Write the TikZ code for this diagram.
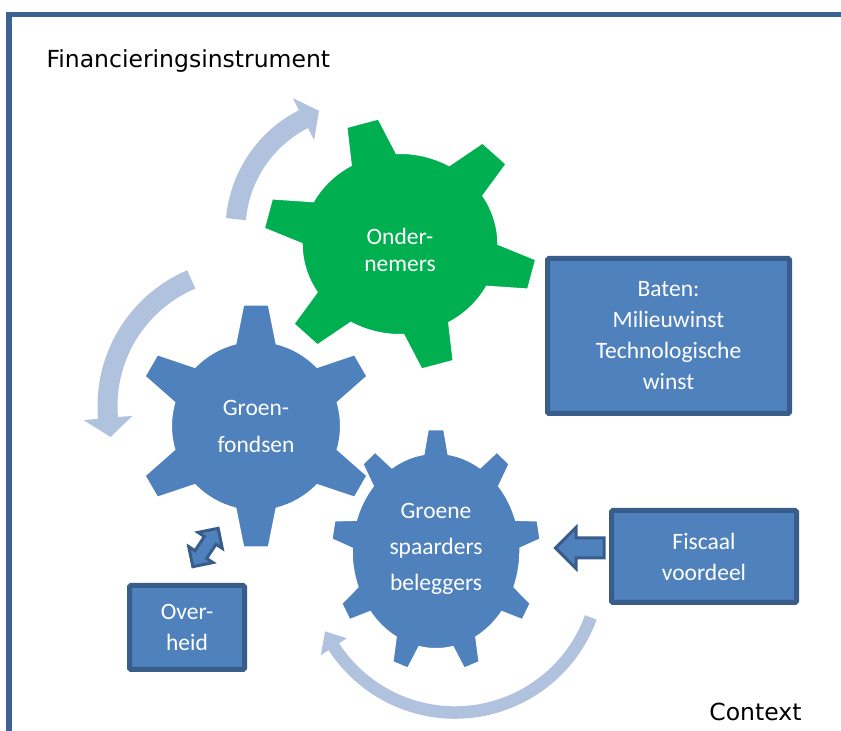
\documentclass[tikz,border=0pt]{standalone}
\usepackage{fontspec}
\setmainfont{Carlito}
\newfontfamily\labelfont{DejaVu Sans}
\usetikzlibrary{shapes.arrows,positioning}

\definecolor{tandblauw}{RGB}{79,129,189}
\definecolor{tandgroen}{RGB}{0,176,80}
\definecolor{randblauw}{RGB}{56,93,138}
\definecolor{kaderblauw}{RGB}{61,99,148}
\definecolor{pijlblauw}{RGB}{176,194,222}

% tandwiel: aantal tanden, hoek eerste tand, straal romp, straal tand, halve voet, halve top
\newcommand{\tandwiel}[6]{%
  ({#2+#5}:#3)
  \foreach \k in {1,...,#1} {
    arc[start angle={#2+(\k-1)*360/#1+#5}, end angle={#2+\k*360/#1-#5}, radius=#3]
    -- ({#2+\k*360/#1-#6}:#4) -- ({#2+\k*360/#1+#6}:#4) -- ({#2+\k*360/#1+#5}:#3)
  } -- cycle}

\begin{document}
\begin{tikzpicture}[x=1pt, y=1pt,
    font=\fontsize{23.5}{31}\selectfont,
    kader/.style={draw=kaderblauw, line width=5.5},
    wiel/.style={draw=white, line width=2},
    wieltekst/.style={text=white, align=center, inner sep=0},
    blok/.style={draw=randblauw, fill=tandblauw, line width=5, rounded corners=1.5,
        text=white, align=center, inner sep=0},
    blokpijl/.style={draw=randblauw, fill=tandblauw, line width=3},
    boog/.style={draw=pijlblauw}]
    \useasboundingbox (0,0) rectangle (841,731);
    \clip (0,0) rectangle (841,731);
    \draw[kader] (9,-10) -- (9,716.5) -- (860,716.5);
    \node[anchor=base west, font=\labelfont\fontsize{23.5}{28}\selectfont] (instr) at (43,663) {Financieringsinstrument};
    \node[anchor=base east, font=\labelfont\fontsize{23.5}{28}\selectfont] (context) at (805,10) {Context};
    % gebogen pijlen
    \begin{scope}[shift={(360,501)}]
        \draw[boog, line width=20] (175:124.5) arc[start angle=175, end angle=116, radius=124.5];
        \fill[pijlblauw] (117:148) -- (109:126) -- (117:101) -- cycle;
    \end{scope}
    \begin{scope}[shift={(245,325)}]
        \draw[boog, line width=20] (113:137.5) arc[start angle=113, end angle=186, radius=137.5];
        \fill[pijlblauw] (185:162) -- (193:138) -- (185:113) -- cycle;
    \end{scope}
    \begin{scope}[shift={(455,163)}]
        \draw[boog, line width=12.5] (-20:144.5) arc[start angle=-20, end angle=-148, radius=144.5];
        \fill[pijlblauw] (-147:160) -- (-154:144.5) -- (-147:129) -- cycle;
    \end{scope}
    % tandwielen
    \begin{scope}[shift={(256,305)}]
        \filldraw[wiel, fill=tandblauw] \tandwiel{6}{90}{85}{122}{14}{6};
    \end{scope}
    \begin{scope}[shift={(400,487)}, xscale=1.08]
        \filldraw[wiel, fill=tandgroen] \tandwiel{6}{106}{91}{127}{14}{7};
    \end{scope}
    \begin{scope}[shift={(436,180)}, xscale=0.86]
        \filldraw[wiel, fill=tandblauw] \tandwiel{9}{90}{98}{122}{8.5}{4.5};
    \end{scope}
    \node[wieltekst, font=\fontsize{23.5}{27}\selectfont] (onder) at (400,481) {Onder-\\nemers};
    \node[wieltekst, font=\fontsize{23.5}{37}\selectfont] (fondsen) at (256,304.5) {Groen-\\fondsen};
    \node[wieltekst, font=\fontsize{23.5}{36}\selectfont] (spaarders) at (436,182) {Groene\\spaarders\\beleggers};
    % blokken
    \node[blok, minimum width=242, minimum height=155] (baten) at (668.5,395) {Baten:\\Milieuwinst\\Technologische\\winst};
    \node[blok, minimum width=185, minimum height=92] (fiscaal) at (704,174.5) {Fiscaal\\voordeel};
    \node[blok, minimum width=115, minimum height=84] (overheid) at (187,103.5) {Over-\\heid};
    \node[blokpijl, single arrow, shape border rotate=180, inner xsep=0, inner ysep=8.5,
        minimum height=48.5, single arrow head extend=10.5, anchor=tail] (fiscpijl)
        at ([xshift=-3.5pt, yshift=8.5pt]fiscaal.west) {};
    \node[blokpijl, double arrow, rotate=56.6, inner xsep=0, inner ysep=5.5,
        minimum height=46, double arrow head extend=7.5] (overpijl) at (205.5,183.5) {};
\end{tikzpicture}
\end{document}
